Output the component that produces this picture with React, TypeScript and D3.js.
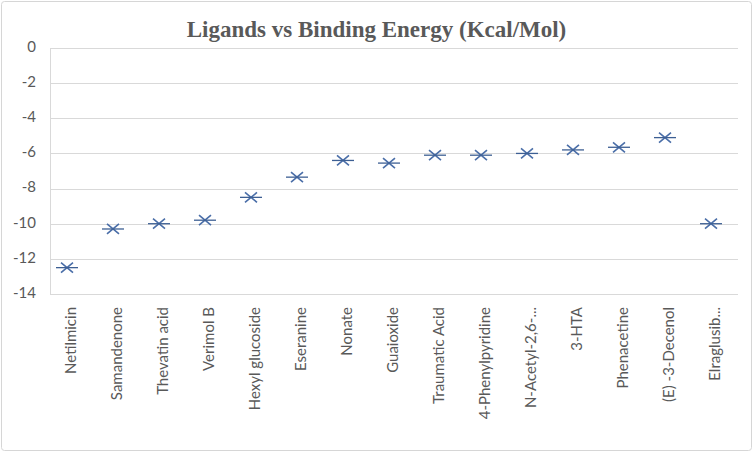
import React from "react";
import * as d3 from "d3";

const ligands = [
  "Netilmicin",
  "Samandenone",
  "Thevatin acid",
  "Verimol B",
  "Hexyl glucoside",
  "Eseranine",
  "Nonate",
  "Guaioxide",
  "Traumatic Acid",
  "4-Phenylpyridine",
  "N-Acetyl-2,6-...",
  "3-HTA",
  "Phenacetine",
  "(E) -3-Decenol",
  "Elraglusib...",
];
const bindingEnergy = [
  -12.5, -10.3, -10.0, -9.8, -8.5, -7.35, -6.4, -6.55, -6.1, -6.1, -6.0, -5.8,
  -5.65, -5.1, -10.0,
];
const yTicks = [0, -2, -4, -6, -8, -10, -12, -14];
const title = "Ligands vs Binding Energy (Kcal/Mol)";

const W = 753;
const H = 453;
const plot = { left: 50, right: 738, top: 48, bottom: 294 };

export default function App() {
  const y = d3.scaleLinear().domain([-14, 0]).range([plot.bottom, plot.top]);
  const band = d3
    .scaleBand<string>()
    .domain(ligands)
    .range([plot.left - 6, plot.right - 4]);
  const cx = (n: string) => (band(n) as number) + band.bandwidth() / 2;
  const textColor = "#595959";
  const markerColor = "#4a6ea8";

  return (
    <svg
      width={W}
      height={H}
      style={{ position: "absolute", left: 0, top: 0, background: "#fff" }}
    >
      <rect x={0} y={0} width={W} height={H} fill="#fff" />
      <rect
        x={1.5}
        y={1.5}
        width={W - 3}
        height={H - 4}
        fill="none"
        stroke="#d6d6d6"
        strokeWidth={1}
        rx={3}
      />
      <text
        x={W / 2}
        y={37}
        textAnchor="middle"
        fontFamily="'Liberation Serif', 'Times New Roman', serif"
        fontWeight="bold"
        fontSize={23}
        fill={textColor}
      >
        {title}
      </text>
      {yTicks.map((t) => (
        <g key={t}>
          <line
            x1={plot.left}
            x2={plot.right}
            y1={Math.round(y(t)) + 0.5}
            y2={Math.round(y(t)) + 0.5}
            stroke="#d9d9d9"
            strokeWidth={1}
          />
          <text
            x={36}
            y={y(t)}
            textAnchor="end"
            dominantBaseline="middle"
            fontFamily="Lato, 'Open Sans', sans-serif"
            fontSize={15}
            fill={textColor}
          >
            {t}
          </text>
        </g>
      ))}
      <line
        x1={plot.left + 0.5}
        x2={plot.left + 0.5}
        y1={plot.top}
        y2={plot.bottom}
        stroke="#d9d9d9"
      />
      {ligands.map((n) => (
        <text
          key={n}
          transform={`translate(${cx(n) + 5},${plot.bottom + 13}) rotate(-90)`}
          textAnchor="end"
          dominantBaseline="middle"
          fontFamily="Lato, 'Open Sans', sans-serif"
          fontSize={15}
          fill={textColor}
        >
          {n}
        </text>
      ))}
      {ligands.map((n, i) => (
        <g key={n} transform={`translate(${cx(n)},${y(bindingEnergy[i])})`}>
          <path
            d="M-6,-5L6,5M-6,5L6,-5"
            stroke={markerColor}
            strokeWidth={1.6}
            fill="none"
          />
          <path d="M-11,0L11,0" stroke="#3d5f93" strokeWidth={1.3} />
        </g>
      ))}
    </svg>
  );
}
